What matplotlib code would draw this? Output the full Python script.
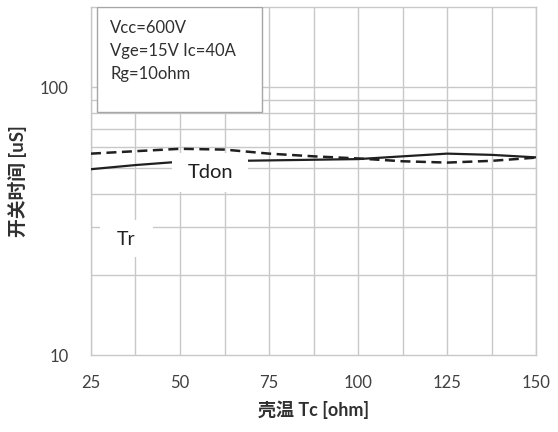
import numpy as np
import matplotlib
matplotlib.use("Agg")
import matplotlib.pyplot as plt
from matplotlib.patches import Rectangle

plt.rcParams['font.family'] = ['Lato', 'Noto Sans CJK SC', 'DejaVu Sans']

# case temperature (x) and switching times
tc = [25, 37.5, 50, 62.5, 75, 87.5, 100, 112.5, 125, 137.5, 150]
tdon = [49.5, 51.3, 52.8, 53.1, 53.4, 53.7, 54.0, 55.3, 56.6, 56.0, 54.8]
tr = [56.6, 57.8, 59.0, 58.6, 56.6, 55.3, 54.3, 53.0, 52.4, 53.2, 54.7]
xticks = [25, 50, 75, 100, 125, 150]
yticks = [10, 100]
conditions = ["Vcc=600V", "Vge=15V Ic=40A", "Rg=10ohm"]

grid_c = '#c8c8c8'
text_c = '#404040'

fig = plt.figure(figsize=(5.58, 4.32), dpi=100)
ax = fig.add_axes([0.163, 0.178, 0.798, 0.806])
ax.set_yscale('log')
ax.set_xlim(25, 150)
ax.set_ylim(10, 200)

# grid: every 12.5 on x, 10..100 minor decades on y
for x in np.arange(25, 150.1, 12.5):
    ax.axvline(x, color=grid_c, lw=1.0, zorder=1)
for y in range(20, 100, 10):
    ax.axhline(y, color=grid_c, lw=1.0, zorder=1)
ax.axhline(100, color=grid_c, lw=1.0, zorder=1)

for s in ax.spines.values():
    s.set_color(grid_c)
    s.set_linewidth(1.0)

ax.plot(tc, tdon, color='#202020', lw=1.6, zorder=3)
ax.plot(tc, tr, color='#202020', lw=1.8, ls=(0, (4, 2.2)), zorder=3)

ax.set_xticks(xticks)
ax.set_xticklabels([str(v) for v in xticks])
ax.set_yticks(yticks)
ax.set_yticklabels([str(v) for v in yticks])
ax.yaxis.set_minor_locator(matplotlib.ticker.NullLocator())
ax.tick_params(axis='both', length=0, labelsize=12, colors=text_c)
ax.tick_params(axis='x', pad=14)
ax.tick_params(axis='y', pad=16)

ax.set_xlabel("壳温 Tc [ohm]", fontsize=13, fontweight='bold', color='#303030', labelpad=7)
ax.set_ylabel("开关时间 [uS]", fontsize=13.5, fontweight='bold', color='#303030', labelpad=9)

# series labels on white patches that hide the lines/grid behind them
ax.add_patch(Rectangle((0.182, 0.468), 0.171, 0.112, transform=ax.transAxes,
                       facecolor='white', edgecolor='none', zorder=4))
ax.text(0.268, 0.525, "Tdon", transform=ax.transAxes, fontsize=14.5, color='#202020',
        ha='center', va='center', zorder=5)
ax.add_patch(Rectangle((0.020, 0.282), 0.119, 0.106, transform=ax.transAxes,
                       facecolor='white', edgecolor='none', zorder=4))
ax.text(0.079, 0.332, "Tr", transform=ax.transAxes, fontsize=14, color='#202020',
        ha='center', va='center', zorder=5)

# conditions box
ax.add_patch(Rectangle((0.0135, 0.698), 0.371, 0.302, transform=ax.transAxes,
                       facecolor='white', edgecolor='#a6a6a6', lw=1.0, zorder=4))
for i, line in enumerate(conditions):
    ax.text(0.043, 0.94 - i * 0.067, line, transform=ax.transAxes, fontsize=12,
            color='#303030', ha='left', va='center', zorder=5)

fig.savefig("out.png", dpi=100)
